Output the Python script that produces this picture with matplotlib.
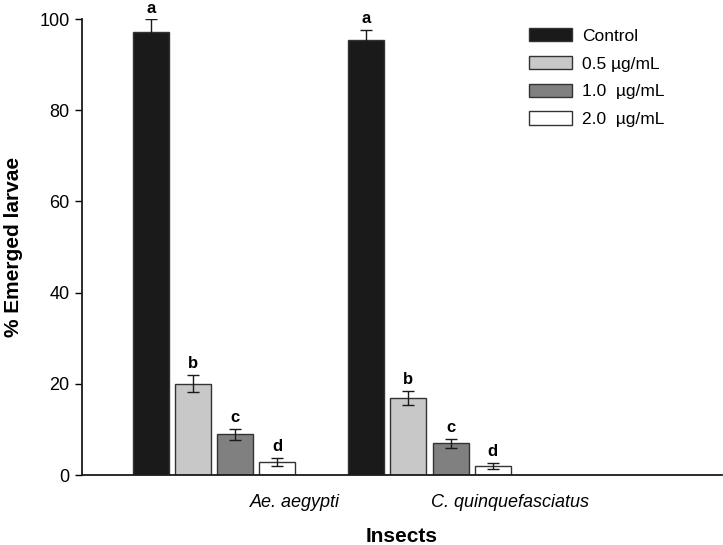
import matplotlib.pyplot as plt
import numpy as np

plt.rcParams["font.family"] = ["Liberation Sans", "DejaVu Sans"]

insects = ["Ae. aegypti", "C. quinquefasciatus"]
treatments = ["Control", "0.5 µg/mL", "1.0  µg/mL", "2.0  µg/mL"]
emerged = [
    [97.2, 20.0, 8.9, 2.9],   # Ae. aegypti
    [95.3, 16.9, 7.0, 2.0],   # C. quinquefasciatus
]
errors = [
    [2.7, 1.9, 1.3, 0.9],
    [2.3, 1.6, 1.0, 0.7],
]
letters = [
    ["a", "b", "c", "d"],
    ["a", "b", "c", "d"],
]
colors = ["#1a1a1a", "#c8c8c8", "#808080", "#ffffff"]

fig = plt.figure(figsize=(7.23, 5.45), dpi=100, facecolor="white")
ax = fig.add_axes([0.1134, 0.1284, 0.8852, 0.8367])

step = 0.196
width = 0.167
offsets = (np.arange(len(treatments)) - 1.5) * step
groups = np.arange(len(insects))

for j, (label, col) in enumerate(zip(treatments, colors)):
    vals = [emerged[i][j] for i in groups]
    errs = [errors[i][j] for i in groups]
    x = groups + offsets[j]
    ax.bar(x, vals, width, color=col, edgecolor="#333333", linewidth=1.0,
           label=label, zorder=2)
    ax.errorbar(x, vals, yerr=errs, fmt="none", ecolor="#1a1a1a",
                elinewidth=1.0, capsize=4.5, capthick=1.0, zorder=3)
    for i in groups:
        ax.annotate(letters[i][j], (x[i], vals[i] + errs[i]),
                    xytext=(0, 5), textcoords="offset points",
                    ha="center", va="baseline", fontsize=12, fontweight="bold",
                    annotation_clip=False)

ax.set_xlim(-0.613, 2.357)
ax.set_ylim(0, 100)
ax.set_yticks([0, 20, 40, 60, 80, 100])
ax.set_xticks(groups + 0.375)
ax.set_xticklabels(insects, fontsize=13, fontstyle="italic")
ax.tick_params(axis="x", length=0, pad=14)
ax.tick_params(axis="y", direction="out", length=5, width=1, labelsize=13, pad=4)

for side in ("top", "right"):
    ax.spines[side].set_visible(False)
for side in ("left", "bottom"):
    ax.spines[side].set_linewidth(1.3)
    ax.spines[side].set_color("#1a1a1a")

ax.set_ylabel("% Emerged larvae", fontsize=15, fontweight="bold", labelpad=12)
ax.set_xlabel("Insects", fontsize=15, fontweight="bold", labelpad=11)

ax.legend(loc="upper left", bbox_to_anchor=(529 / 723, 1 - 28 / 545),
          bbox_transform=fig.transFigure, frameon=False, fontsize=12.5,
          handlelength=2.5, handleheight=0.8, handletextpad=0.55,
          labelspacing=0.7, borderpad=0, borderaxespad=0)

fig.savefig("out.png", dpi=100, facecolor="white")
